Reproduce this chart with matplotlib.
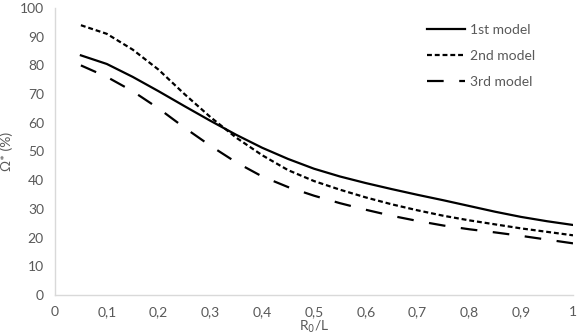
import matplotlib
matplotlib.use("Agg")
import matplotlib.pyplot as plt

# R0/L values and model curves
r0_l = [0.05, 0.10, 0.15, 0.20, 0.25, 0.30, 0.35, 0.40, 0.45, 0.50,
        0.55, 0.60, 0.65, 0.70, 0.75, 0.80, 0.85, 0.90, 0.95, 1.00]
model_1 = [83.5, 80.5, 76.0, 71.0, 65.8, 60.7, 55.8, 51.3, 47.4, 44.0,
           41.3, 39.0, 36.9, 34.9, 33.0, 31.0, 29.0, 27.2, 25.7, 24.4]
model_2 = [94.0, 91.0, 85.5, 78.5, 70.0, 62.0, 54.8, 48.7, 43.5, 39.7,
           36.7, 34.0, 31.6, 29.5, 27.6, 26.0, 24.6, 23.2, 22.0, 20.8]
model_3 = [80.0, 76.0, 71.0, 65.0, 58.3, 52.0, 46.2, 41.3, 37.6, 34.6,
           32.0, 29.7, 27.6, 25.8, 24.2, 22.9, 21.8, 20.6, 19.3, 18.0]
labels = ["1st model", "2nd model", "3rd model"]

xticks = [0, 0.1, 0.2, 0.3, 0.4, 0.5, 0.6, 0.7, 0.8, 0.9, 1]
xtick_labels = ["0", "0,1", "0,2", "0,3", "0,4", "0,5", "0,6", "0,7", "0,8", "0,9", "1"]
yticks = list(range(0, 101, 10))

plt.rcParams["font.family"] = ["Lato", "DejaVu Sans"]
gray = "#595959"

fig = plt.figure(figsize=(5.78, 3.36), dpi=100)
ax = fig.add_axes([55 / 578, 41 / 336, 518 / 578, 287 / 336])

ax.plot(r0_l, model_1, color="black", lw=1.6, linestyle="-", label=labels[0])
ax.plot(r0_l, model_2, color="black", lw=1.6, linestyle=(0, (2.2, 1.3)), label=labels[1])
ax.plot(r0_l, model_3, color="black", lw=1.6, linestyle=(0, (7.5, 7.0)), label=labels[2])

ax.set_xlim(0, 1)
ax.set_ylim(0, 100)
ax.set_xticks(xticks)
ax.set_xticklabels(xtick_labels)
ax.set_yticks(yticks)
ax.tick_params(length=0, labelsize=10, colors=gray, pad=8)
for s in ["top", "right"]:
    ax.spines[s].set_visible(False)
for s in ["left", "bottom"]:
    ax.spines[s].set_color("#d9d9d9")
    ax.spines[s].set_linewidth(1.0)

ax.set_xlabel("R$_0$/L", fontsize=10, color=gray, labelpad=0)
ax.set_ylabel("Ω* (%)", fontsize=10, color=gray, labelpad=5)

leg = ax.legend(loc="upper left", bbox_to_anchor=((427 - 55) / 518, (295 - 24) / 287),
                frameon=False, borderaxespad=0, borderpad=0,
                fontsize=10, handlelength=2.75, handletextpad=0.36, labelspacing=1.0,
                labelcolor=gray)

fig.savefig("out.png", dpi=100)
plt.close(fig)
